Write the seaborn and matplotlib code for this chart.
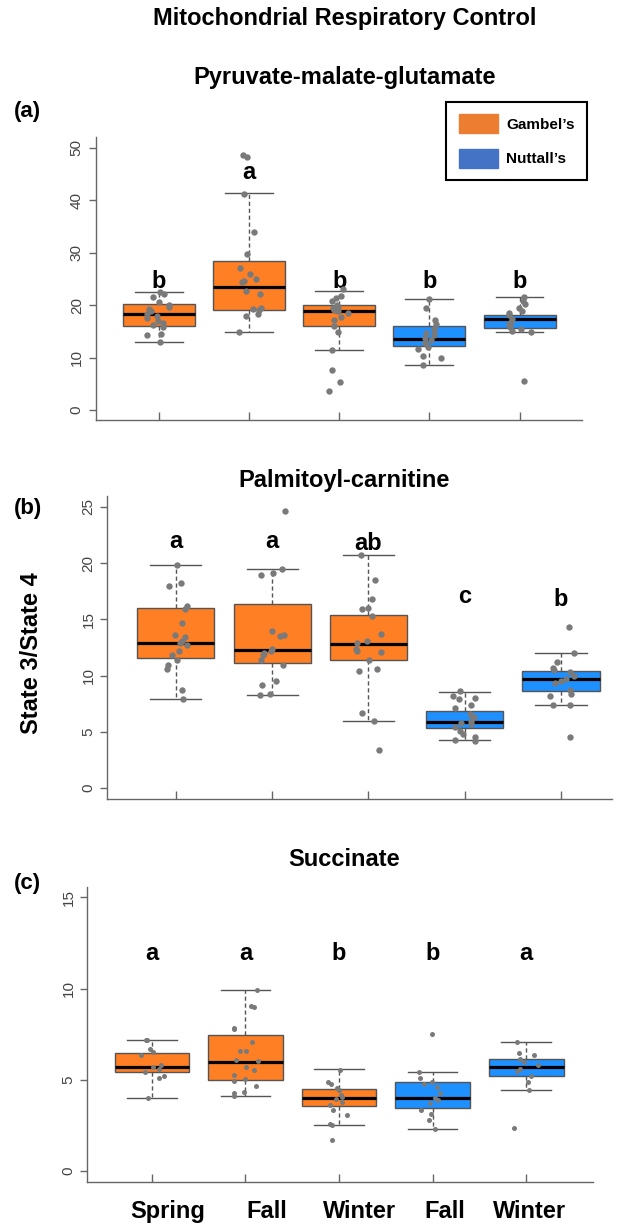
import numpy as np
import pandas as pd
import matplotlib.pyplot as plt
import matplotlib.transforms as mtransforms
import seaborn as sns
from matplotlib.patches import Patch

plt.rcParams['font.family'] = ['Liberation Sans', 'DejaVu Sans']

groups = ['Spring G', 'Fall G', 'Winter G', 'Fall N', 'Winter N']
seasons = ['Spring', 'Fall', 'Winter', 'Fall', 'Winter']
box_colors = ['#FF7F24', '#FF7F24', '#FF7F24', '#1E90FF', '#1E90FF']

# (a) Pyruvate-malate-glutamate: individual birds
pmg_points = [
    [22.5, 22.1, 21.6, 20.6, 20.0, 19.6, 19.2, 18.8, 18.4, 18.0, 17.6, 17.0, 16.6, 16.2, 15.8, 14.6, 14.3, 13.0],
    [48.7, 48.3, 41.2, 33.9, 29.8, 27.0, 26.0, 24.9, 24.6, 24.4, 22.7, 22.1, 19.5, 19.3, 19.0, 18.4, 17.9, 14.8],
    [23.0, 21.7, 21.4, 20.8, 20.0, 19.7, 19.4, 19.0, 18.9, 18.5, 17.8, 17.1, 16.0, 14.9, 11.4, 7.7, 5.4, 3.6],
    [21.1, 19.4, 17.1, 16.5, 15.4, 15.1, 14.7, 14.3, 13.8, 13.3, 12.8, 12.1, 11.7, 10.3, 10.0, 8.6],
    [21.6, 20.8, 20.3, 19.4, 18.8, 18.5, 18.1, 17.3, 16.8, 16.5, 15.9, 15.4, 15.1, 14.8, 5.5],
]
# box summary: whisker low, Q1, median, Q3, whisker high
pmg_box = [
    [13.0, 16.1, 18.3, 20.3, 22.5],
    [14.8, 19.0, 23.5, 28.4, 41.3],
    [11.4, 16.0, 18.8, 20.1, 22.8],
    [8.6, 12.2, 13.6, 16.0, 21.2],
    [14.8, 15.7, 17.4, 18.1, 21.5],
]
pmg_letters = ['b', 'a', 'b', 'b', 'b']
pmg_letter_y = [24.6, 45.2, 24.6, 24.6, 24.6]

# (b) Palmitoyl-carnitine
pc_points = [
    [19.8, 18.2, 18.0, 16.2, 15.9, 14.7, 13.6, 13.4, 13.1, 12.9, 12.7, 12.2, 11.8, 11.4, 10.9, 10.6, 8.7, 7.9],
    [24.6, 19.5, 19.1, 18.9, 14.0, 13.6, 13.5, 12.4, 12.2, 12.0, 11.8, 11.4, 10.9, 9.5, 9.2, 8.4, 8.3],
    [20.7, 18.5, 16.8, 16.0, 15.9, 15.3, 13.7, 13.1, 12.9, 12.4, 12.2, 12.1, 11.4, 10.6, 10.4, 6.7, 6.0, 3.4],
    [8.6, 8.2, 8.0, 7.9, 7.4, 7.1, 6.6, 6.3, 6.0, 5.8, 5.7, 5.4, 5.1, 4.8, 4.5, 4.3, 4.2],
    [14.3, 12.0, 11.2, 10.7, 10.5, 10.3, 10.0, 9.7, 9.5, 9.3, 8.7, 8.4, 8.2, 7.4, 7.35, 4.5],
]
pc_box = [
    [7.9, 11.6, 12.9, 16.0, 19.8],
    [8.3, 11.1, 12.25, 16.4, 19.45],
    [6.0, 11.4, 12.8, 15.4, 20.7],
    [4.3, 5.34, 5.84, 6.85, 8.57],
    [7.35, 8.63, 9.7, 10.4, 12.0],
]
pc_letters = ['a', 'a', 'ab', 'c', 'b']
pc_letter_y = [21.9, 21.9, 21.7, 17.0, 16.8]

# (c) Succinate
suc_points = [
    [7.2, 7.15, 6.7, 6.5, 6.35, 5.8, 5.7, 5.6, 5.4, 5.2, 5.1, 4.0],
    [9.9, 9.05, 9.0, 7.85, 7.8, 7.05, 6.6, 6.55, 6.1, 6.0, 5.7, 5.55, 5.25, 5.05, 4.95, 4.65, 4.35, 4.25, 4.1],
    [5.55, 4.9, 4.75, 4.55, 4.45, 4.15, 4.05, 3.95, 3.8, 3.6, 3.35, 3.05, 2.55, 2.5, 1.7],
    [7.5, 5.4, 5.1, 4.9, 4.75, 4.6, 4.25, 4.0, 3.9, 3.7, 3.35, 3.1, 2.8, 2.3],
    [7.05, 6.45, 6.35, 6.15, 5.95, 5.8, 5.6, 5.45, 5.2, 4.9, 4.45, 2.35],
]
suc_box = [
    [4.0, 5.4, 5.69, 6.49, 7.19],
    [4.1, 5.0, 5.98, 7.44, 9.91],
    [2.5, 3.57, 3.99, 4.5, 5.56],
    [2.32, 3.44, 4.0, 4.88, 5.41],
    [4.43, 5.21, 5.69, 6.16, 7.06],
]
suc_letters = ['a', 'a', 'b', 'b', 'a']
suc_letter_y = [11.9, 11.9, 11.9, 11.9, 11.9]


def long_frame(values):
    rows = [(g, v) for g, vals in zip(groups, values) for v in vals]
    return pd.DataFrame(rows, columns=['group', 'value'])


def draw_panel(ax, points, box, letters, letter_y, ylim, yticks, xlim, dot_size):
    box_df = long_frame(box)
    pts_df = long_frame(points)
    sns.boxplot(data=box_df, x='group', y='value', hue='group', order=groups, hue_order=groups,
                palette=box_colors, saturation=1, width=0.8, whis=(0, 100), showfliers=False,
                linecolor='#555555', linewidth=1, legend=False, ax=ax, capwidths=0.53,
                medianprops={'color': 'black', 'linewidth': 2.3},
                whiskerprops={'color': '#555555', 'linestyle': (0, (3, 2)), 'linewidth': 1},
                capprops={'color': '#555555', 'linewidth': 1})
    sns.stripplot(data=pts_df, x='group', y='value', order=groups, color='#7a7a7a',
                  size=dot_size, jitter=0.14, linewidth=0, zorder=4, ax=ax)
    for i, (lab, y) in enumerate(zip(letters, letter_y)):
        ax.text(i, y, lab, ha='center', va='center', fontsize=17, fontweight='bold')
    ax.set_xlim(*xlim)
    ax.set_ylim(*ylim)
    ax.set_yticks(yticks)
    ax.set_yticklabels([str(t) for t in yticks], rotation=90, va='center', fontsize=11, color='#444444')
    ax.set_xticks(range(len(groups)))
    ax.set_xlabel('')
    ax.set_ylabel('')
    ax.tick_params(axis='y', direction='out', length=5, color='#666666', width=1)
    ax.tick_params(axis='x', direction='in', length=6, color='#666666', width=1)
    sns.despine(ax=ax)
    for s in ['left', 'bottom']:
        ax.spines[s].set_color('#666666')
        ax.spines[s].set_linewidth(1)


np.random.seed(3)
fig = plt.figure(figsize=(6.17, 12.25), dpi=100)

ax_a = fig.add_axes([0.155, 0.657, 0.788, 0.231])
draw_panel(ax_a, pmg_points, pmg_box, pmg_letters, pmg_letter_y, (-1.9, 52.0), [0, 10, 20, 30, 40, 50],
           (-0.70, 4.69), 4.6)
ax_a.set_xticklabels([])

ax_b = fig.add_axes([0.174, 0.348, 0.818, 0.247])
draw_panel(ax_b, pc_points, pc_box, pc_letters, pc_letter_y, (-0.94, 25.95), [0, 5, 10, 15, 20, 25],
           (-0.71, 4.53), 4.6)
ax_b.set_xticklabels([])

ax_c = fig.add_axes([0.1417, 0.0353, 0.8186, 0.2409])
draw_panel(ax_c, suc_points, suc_box, suc_letters, suc_letter_y, (-0.6, 15.59), [0, 5, 10, 15],
           (-0.69, 4.71), 3.6)
ax_c.set_xticklabels(seasons, fontsize=17, fontweight='bold')
ax_c.tick_params(axis='x', pad=13)
# season labels sit a little right of their ticks in the original
for lab, dx in zip(ax_c.get_xticklabels(), [16, 21, 20, 12, 3]):
    lab.set_transform(lab.get_transform() + mtransforms.ScaledTranslation(dx / 100, 0, fig.dpi_scale_trans))

fig.text(0.558, 0.9853, 'Mitochondrial Respiratory Control', ha='center', va='center', fontsize=17,
         fontweight='bold')
fig.text(0.558, 0.937, 'Pyruvate-malate-glutamate', ha='center', va='center', fontsize=17, fontweight='bold')
fig.text(0.558, 0.6076, 'Palmitoyl-carnitine', ha='center', va='center', fontsize=17, fontweight='bold')
fig.text(0.558, 0.298, 'Succinate', ha='center', va='center', fontsize=17, fontweight='bold')
fig.text(0.022, 0.909, '(a)', ha='left', va='center', fontsize=16, fontweight='bold')
fig.text(0.022, 0.585, '(b)', ha='left', va='center', fontsize=16, fontweight='bold')
fig.text(0.022, 0.279, '(c)', ha='left', va='center', fontsize=16, fontweight='bold')
fig.text(0.051, 0.467, 'State 3/State 4', ha='center', va='center', rotation=90, fontsize=17, fontweight='bold')

handles = [Patch(facecolor='#ED7D31', edgecolor='#ED7D31', label='Gambel\u2019s'),
           Patch(facecolor='#4472C4', edgecolor='#4472C4', label='Nuttall\u2019s')]
leg = fig.legend(handles=handles, loc='upper right', bbox_to_anchor=(0.951, 0.9167), fancybox=False,
                 edgecolor='black', framealpha=1, prop={'weight': 'bold', 'size': 11},
                 handlelength=2.6, handleheight=1.5, labelspacing=1.05, borderpad=0.8, handletextpad=0.5,
                 borderaxespad=0)
leg.get_frame().set_linewidth(1.5)

fig.savefig('out.png', dpi=100)
